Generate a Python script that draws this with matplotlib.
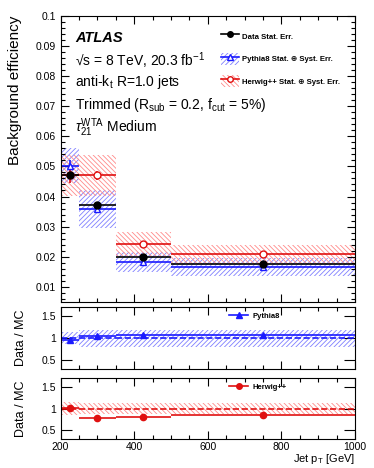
import matplotlib.pyplot as plt
import numpy as np
from matplotlib.patches import Patch
from matplotlib.lines import Line2D
from matplotlib.ticker import MultipleLocator, FormatStrFormatter

plt.rcParams['font.family'] = ['Liberation Sans', 'DejaVu Sans']
plt.rcParams['hatch.linewidth'] = 0.6
plt.rcParams['mathtext.fontset'] = 'custom'
plt.rcParams['mathtext.rm'] = 'Liberation Sans'
plt.rcParams['mathtext.it'] = 'Liberation Sans:italic'

# Data: jet pT bins [GeV]
bin_edges = [200, 250, 350, 500, 1000]
bin_centers = [225, 300, 425, 750]

# Background efficiency
data_eff = [0.0471, 0.0372, 0.0198, 0.0177]
data_stat = [0.0010, 0.0007, 0.0005, 0.0004]
pythia_eff = [0.0503, 0.0359, 0.0183, 0.0166]
pythia_stat = [0.0018, 0.0008, 0.0005, 0.0004]
pythia_unc = [0.0058, 0.0063, 0.0033, 0.0029]
herwig_eff = [0.0471, 0.0471, 0.0242, 0.0208]
herwig_stat = [0.0025, 0.0015, 0.0006, 0.0005]
herwig_unc = [0.0068, 0.0068, 0.0039, 0.0031]

# Data / MC ratios
ratio_pythia = [0.95, 1.04, 1.08, 1.07]
ratio_pythia_band = [0.14, 0.19, 0.19, 0.19]
ratio_herwig = [1.02, 0.79, 0.81, 0.86]
ratio_herwig_band = [0.14, 0.13, 0.13, 0.13]

blue = '#1a1aff'
blue_light = '#7f7fff'
red = '#e01010'
red_light = '#ff8a8a'

fig = plt.figure(figsize=(3.74, 4.68), dpi=100)
ax = fig.add_axes([0.162, 0.355, 0.787, 0.611])
ax1 = fig.add_axes([0.162, 0.211, 0.787, 0.133])
ax2 = fig.add_axes([0.162, 0.062, 0.787, 0.130])

lo = np.array(bin_edges[:-1])
hi = np.array(bin_edges[1:])
xerr = [np.array(bin_centers) - lo, hi - np.array(bin_centers)]


def bands(a, vals, unc, color, hatch):
    for l, h, v, u in zip(lo, hi, vals, unc):
        a.fill_between([l, h], v - u, v + u, facecolor='none', edgecolor=color,
                       hatch=hatch, linewidth=0)


# main panel
bands(ax, pythia_eff, pythia_unc, blue_light, '///////')
bands(ax, herwig_eff, herwig_unc, red_light, '\\\\\\\\\\\\\\')
ax.errorbar(bin_centers, pythia_eff, xerr=xerr, yerr=pythia_stat, fmt='^', color=blue,
            mfc='white', mec=blue, ms=5, elinewidth=1.2, capsize=0)
ax.errorbar(bin_centers, herwig_eff, xerr=xerr, yerr=herwig_stat, fmt='o', color=red,
            mfc='white', mec=red, ms=5, elinewidth=1.2, capsize=0)
ax.errorbar(bin_centers, data_eff, xerr=xerr, yerr=data_stat, fmt='o', color='black',
            ms=5, elinewidth=1.2, capsize=0)

ax.set_xlim(200, 1000)
ax.set_ylim(0.005, 0.1)
ax.yaxis.set_major_locator(MultipleLocator(0.01))
ax.yaxis.set_minor_locator(MultipleLocator(0.002))
ax.yaxis.set_major_formatter(FormatStrFormatter('%g'))
ax.set_ylabel('Background efficiency', fontsize=11, loc='top')
ax.set_xticklabels([])

ax.text(0.05, 0.91, 'ATLAS', transform=ax.transAxes, fontsize=10.5,
        fontweight='bold', style='italic')
ax.text(0.05, 0.825, '\u221as = 8 TeV, 20.3 fb$^{-1}$', transform=ax.transAxes, fontsize=10)
ax.text(0.05, 0.755, r'anti-k$_{\rm t}$ R=1.0 jets', transform=ax.transAxes, fontsize=10)
ax.text(0.05, 0.675, r'Trimmed (R$_{\rm sub}$ = 0.2, f$_{\rm cut}$ = 5%)', transform=ax.transAxes, fontsize=10)
ax.text(0.05, 0.595, r'$\tau_{21}^{\rm WTA}$ Medium', transform=ax.transAxes, fontsize=10)

h_data = Line2D([], [], color='black', marker='o', ms=4, lw=1.2)
h_py = (Patch(facecolor='none', edgecolor=blue_light, hatch='///////', lw=0),
        Line2D([], [], color=blue, marker='^', mfc='white', ms=4, lw=1.2))
h_hw = (Patch(facecolor='none', edgecolor=red_light, hatch='\\\\\\\\\\\\\\', lw=0),
        Line2D([], [], color=red, marker='o', mfc='white', ms=4, lw=1.2))
leg = ax.legend([h_data, h_py, h_hw],
                ['Data Stat. Err.', 'Pythia8 Stat. \u2295 Syst. Err.',
                 'Herwig++ Stat. \u2295 Syst. Err.'],
                loc='upper left', bbox_to_anchor=(0.52, 0.975), frameon=False,
                prop={'size': 5.6, 'weight': 'bold'}, handlelength=2.4, handleheight=2.0,
                labelspacing=1.35, handletextpad=0.4)

# ratio panels
for a, r, band, col, light, hatch, mk, lab in [
        (ax1, ratio_pythia, ratio_pythia_band, blue, blue_light, '///////', '^', 'Pythia8'),
        (ax2, ratio_herwig, ratio_herwig_band, red, red_light, '\\\\\\\\\\\\\\', 'o', 'Herwig++')]:
    bands(a, np.ones(4), band, light, hatch)
    a.hlines(np.ones(4), lo, hi, colors=col, linestyles='--', lw=1.2)
    a.errorbar(bin_centers, r, xerr=xerr, fmt=mk, color=col, ms=4.5, elinewidth=1.2, capsize=0)
    a.set_xlim(200, 1000)
    a.set_ylim(0.3, 1.7)
    a.yaxis.set_major_locator(MultipleLocator(0.5))
    a.yaxis.set_minor_locator(MultipleLocator(0.5))
    a.yaxis.set_major_formatter(FormatStrFormatter('%g'))
    a.set_ylabel('Data / MC', fontsize=9)
    a.legend([Line2D([], [], color=col, marker=mk, ms=4, lw=1.2)], [lab],
             loc='upper left', bbox_to_anchor=(0.55, 1.02), frameon=False,
             prop={'size': 5.5, 'weight': 'bold'}, handlelength=2.5, handletextpad=0.5)

ax1.set_xticklabels([])
ax2.set_xlabel(r'Jet p$_{\rm T}$ [GeV]', fontsize=8, loc='right', labelpad=0)

for a in (ax, ax1, ax2):
    a.xaxis.set_major_locator(MultipleLocator(200))
    a.xaxis.set_minor_locator(MultipleLocator(50))
    a.tick_params(which='both', direction='in', top=True, right=True, labelsize=7.5)
    a.tick_params(which='major', length=6, width=0.8)
    a.tick_params(which='minor', length=3, width=0.8)
    for s in a.spines.values():
        s.set_linewidth(0.8)
for a in (ax1, ax2):
    a.tick_params(axis='y', which='major', length=8)
    a.tick_params(axis='x', which='major', length=6)
    a.yaxis.set_label_coords(-0.115, 0.5)
ax2.tick_params(axis='x', pad=2)
ax.yaxis.set_label_coords(-0.13, 1.0)

fig.savefig('out.png', dpi=100)
